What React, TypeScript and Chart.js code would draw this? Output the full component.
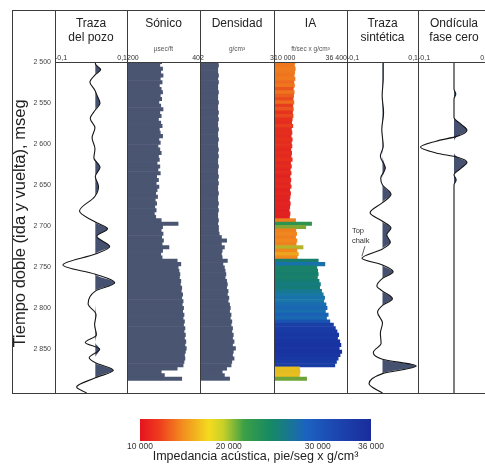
import React, { useEffect, useRef } from 'react';
import { Chart, registerables } from 'chart.js';

Chart.register(...registerables);

// ---------------- data ----------------
const TIME_MIN = 2500;
const TIME_MAX = 2893;
const TIME_TICKS = [2500, 2550, 2600, 2650, 2700, 2750, 2800, 2850];

// logs sampled every 4 ms from 2500 ms
const LOG_START = 2500;
const LOG_STEP = 4;

const SONIC = [
  124, 128, 122, 126, 121, 127, 123, 129, 125, 122,
  127, 124, 130, 126, 121, 128, 125, 131, 126, 123,
  129, 127, 122, 130, 127, 132, 128, 125, 131, 129,
  134, 128, 132, 127, 135, 131, 136, 130, 134, 137,
  133, 138, 135, 139, 136, 140, 137, 125, 88, 122,
  125, 121, 124, 120, 123, 108, 122, 126, 123, 90,
  82, 88, 86, 84, 85, 82, 83, 80, 81, 78,
  80, 77, 79, 76, 78, 75, 77, 74, 76, 73,
  75, 72, 74, 71, 73, 70, 72, 74, 73, 75,
  77, 90, 125, 118, 80,
];

const DENSITY = [
  2.24, 2.25, 2.24, 2.24, 2.25, 2.24, 2.25, 2.24, 2.24, 2.25,
  2.24, 2.24, 2.25, 2.24, 2.24, 2.25, 2.24, 2.25, 2.24, 2.24,
  2.25, 2.24, 2.24, 2.25, 2.24, 2.24, 2.25, 2.24, 2.25, 2.24,
  2.24, 2.25, 2.24, 2.24, 2.25, 2.24, 2.25, 2.24, 2.24, 2.25,
  2.24, 2.24, 2.25, 2.24, 2.25, 2.24, 2.24, 2.25, 2.24, 2.25,
  2.25, 2.26, 2.29, 2.36, 2.29, 2.33, 2.30, 2.29, 2.30, 2.37,
  2.31, 2.33, 2.34, 2.35, 2.34, 2.36, 2.37, 2.36, 2.38, 2.37,
  2.39, 2.38, 2.40, 2.41, 2.40, 2.42, 2.41, 2.43, 2.42, 2.44,
  2.43, 2.45, 2.44, 2.46, 2.44, 2.48, 2.45, 2.44, 2.46, 2.43,
  2.42, 2.36, 2.30, 2.33, 2.40,
];

const IA = [
  17600, 17400, 17700, 17500, 17300, 17600, 17200, 17400, 17000, 17300,
  17100, 16900, 17200, 16800, 17000, 16700, 16900, 16600, 16400, 16800,
  16300, 16500, 16200, 16600, 16300, 16500, 16100, 16400, 16200, 16600,
  16000, 16300, 15900, 16200, 15800, 16100, 15900, 16200, 15700, 16000,
  15800, 15600, 15900, 15700, 15500, 15800, 15600, 17800, 23600, 21500,
  17900, 18200, 17800, 18300, 18000, 20500, 18300, 18800, 18400, 26000,
  28400, 25500, 25800, 26000, 25700, 26300, 26800, 26500, 27200, 27800,
  28300, 28000, 28800, 29200, 28600, 29600, 29000, 30200, 31500, 32200,
  32800, 33400, 33000, 33800, 34200, 33600, 34500, 33900, 33200, 32600,
  32000, 19300, 19400, 19200, 21800,
];

// well trace (Traza del pozo): time (ms) and amplitude
const WELL_T = [2500, 2503, 2509, 2515, 2524, 2533, 2541, 2549, 2557, 2567, 2578, 2590, 2603, 2614, 2625, 2636, 2648, 2660, 2677, 2690, 2698, 2707, 2719, 2728, 2741, 2752, 2762, 2772, 2787, 2800, 2812, 2824, 2833, 2841, 2851, 2857, 2866, 2875, 2886, 2893];
const WELL_A = [0.012, 0.013, 0.027, 0.012, -0.003, 0.010, 0.018, 0.025, 0.012, -0.002, 0.011, 0.003, 0.011, 0.008, 0.025, 0.012, 0.021, 0.010, -0.032, 0.012, 0.046, 0.016, 0.052, 0.012, -0.078, 0.012, 0.066, 0.012, -0.008, 0.014, 0.010, 0.015, -0.016, 0.024, -0.005, 0.012, 0.062, 0.012, -0.040, -0.012];
const WELL_BASE = 0.012;

// synthetic trace
const SYN_T = [2500, 2520, 2540, 2560, 2580, 2600, 2612, 2626, 2638, 2646, 2657, 2667, 2679, 2689, 2697, 2705, 2714, 2722, 2733, 2741, 2749, 2757, 2766, 2772, 2781, 2789, 2797, 2810, 2822, 2834, 2845, 2853, 2861, 2870, 2882, 2893];
const SYN_A = [0.002, 0.002, -0.001, 0.003, -0.002, 0.002, -0.006, 0.008, -0.005, 0.000, 0.024, 0.000, -0.035, 0.000, 0.024, 0.012, 0.022, 0.000, -0.058, 0.000, 0.030, 0.000, -0.016, 0.000, 0.028, 0.000, -0.014, 0.000, -0.006, -0.004, -0.026, 0.000, 0.095, 0.000, -0.038, 0.000];
const SYN_BASE = 0;
const TOP_CHALK_T = 2733;
const TOP_CHALK_A = -0.058;

// zero-phase wavelet
const WAV_T = [2500, 2532, 2538, 2544, 2566, 2574, 2581, 2588, 2594, 2601, 2608, 2613, 2619, 2626, 2634, 2640, 2646, 2893];
const WAV_A = [0, 0, 0.005, 0, 0, 0.02, 0.036, 0.01, -0.05, -0.093, -0.05, 0.01, 0.036, 0.02, 0, 0.006, 0, 0];
const WAV_BASE = 0;

// colour bar
const CB_MIN = 10000;
const CB_MAX = 36000;
const CB_TICKS = [10000, 20000, 30000, 36000];

// ---------------- styles ----------------
const REG = '"Liberation Sans", Arial, Helvetica, sans-serif';
const LOG_COLOR = '#4a5572';
const SHADE = '#465170';
const LINE_COLOR = '#151515';
const FRAME = '#3c3c3c';

const IA_STOPS: [number, string][] = [
  [15400, '#df1d21'], [16700, '#e6321e'], [17300, '#ee751e'], [18400, '#f08a1e'],
  [19200, '#e9bf1f'], [20800, '#a8b02c'], [22600, '#3d9a45'], [24600, '#1e8a5c'],
  [26400, '#157b72'], [28000, '#1877a8'], [29600, '#1a60b6'], [31200, '#1a41a8'],
  [34500, '#1832a0'],
];
const CB_STOPS: [number, string][] = [
  [0, '#e5141e'], [0.08, '#ee3a1e'], [0.18, '#f28a1e'], [0.3, '#f3dc1e'], [0.36, '#c8d028'],
  [0.45, '#3ca046'], [0.56, '#178a62'], [0.64, '#18788e'], [0.72, '#1c62c0'], [0.85, '#1c46b0'], [1, '#1a2c9c'],
];

function hexRgb(h: string) {
  return [parseInt(h.slice(1, 3), 16), parseInt(h.slice(3, 5), 16), parseInt(h.slice(5, 7), 16)];
}
function iaColor(v: number) {
  if (v <= IA_STOPS[0][0]) return IA_STOPS[0][1];
  for (let i = 1; i < IA_STOPS.length; i++) {
    const [v1, c1] = IA_STOPS[i];
    if (v <= v1) {
      const [v0, c0] = IA_STOPS[i - 1];
      const f = (v - v0) / (v1 - v0);
      const a = hexRgb(c0), b = hexRgb(c1);
      const m = a.map((x, k) => Math.round(x + (b[k] - x) * f));
      return `rgb(${m[0]},${m[1]},${m[2]})`;
    }
  }
  return IA_STOPS[IA_STOPS.length - 1][1];
}

const thousands = (v: number) => String(v).replace(/\B(?=(\d{3})+(?!\d))/g, ' ');
const comma = (v: number) => String(v).replace('.', ',');

// ---------------- layout ----------------
const TOP = 10;
const BOTTOM = 393;
const TRACKS = [
  { left: 55, width: 72 },
  { left: 127, width: 73 },
  { left: 200, width: 74 },
  { left: 274, width: 73 },
  { left: 347, width: 71 },
  { left: 418, width: 72 },
];

function hiddenTime() {
  return { type: 'linear', min: TIME_MIN, max: TIME_MAX, reverse: true, display: false, offset: false };
}

function headerScale(min: number, max: number, fmt: (v: number) => string, reverse = false) {
  return {
    type: 'linear',
    position: 'top',
    min,
    max,
    reverse,
    beginAtZero: false,
    grid: { display: false, drawTicks: false },
    border: { display: false },
    ticks: {
      align: 'inner',
      padding: 0,
      autoSkip: false,
      maxRotation: 0,
      color: '#333',
      font: { family: REG, size: 7, lineHeight: 1.2 },
      callback: (v: number) => fmt(v),
    },
    afterBuildTicks: (s: any) => { s.ticks = [{ value: min }, { value: max }]; },
    afterFit: (s: any) => { s.height = 9; },
  };
}

function headerPlugins(title: string[], unit: string) {
  return {
    legend: { display: false },
    tooltip: { enabled: false },
    title: {
      display: true,
      text: title,
      color: '#222',
      font: { family: REG, size: 12, lineHeight: 14 / 12, weight: 'normal' },
      padding: { top: 7, bottom: 0 },
    },
    subtitle: {
      display: true,
      text: unit,
      color: '#555',
      font: { family: REG, size: 6.5, lineHeight: 1.2, weight: 'normal' },
      padding: { top: 0, bottom: 0.2 },
    },
  };
}

function logChart(canvas: HTMLCanvasElement, values: number[], min: number, max: number, base: number,
  reverse: boolean, fmt: (v: number) => string, title: string[], unit: string, colors: any) {
  return new Chart(canvas, {
    type: 'bar',
    data: {
      datasets: [{
        data: values.map((v, i) => ({ x: v, y: LOG_START + i * LOG_STEP })),
        backgroundColor: colors,
        borderWidth: 0,
        base,
        barPercentage: 1,
        categoryPercentage: 1,
      }],
    },
    options: {
      indexAxis: 'y',
      responsive: false,
      animation: false,
      events: [],
      layout: { padding: 0 },
      scales: { x: headerScale(min, max, fmt, reverse), y: hiddenTime() },
      plugins: headerPlugins(title, unit),
    } as any,
  });
}

function wiggleChart(canvas: HTMLCanvasElement, ts: number[], as: number[], base: number,
  title: string[], unit: string, extra: any[] = []) {
  const line = ts.map((t, i) => ({ x: as[i], y: t }));
  const pos = ts.map((t, i) => ({ x: Math.max(as[i], base), y: t }));
  return new Chart(canvas, {
    type: 'line',
    data: {
      datasets: [
        {
          data: pos,
          fill: { value: base },
          backgroundColor: SHADE,
          borderColor: 'rgba(0,0,0,0)',
          borderWidth: 0,
          pointRadius: 0,
          cubicInterpolationMode: 'monotone',
          order: 2,
        },
        {
          data: line,
          fill: false,
          borderColor: LINE_COLOR,
          borderWidth: 1.1,
          pointRadius: 0,
          cubicInterpolationMode: 'monotone',
          order: 1,
        },
      ],
    },
    options: {
      indexAxis: 'y',
      responsive: false,
      animation: false,
      events: [],
      layout: { padding: 0 },
      scales: { x: headerScale(-0.1, 0.1, comma), y: hiddenTime() },
      plugins: headerPlugins(title, unit),
    } as any,
    plugins: extra,
  });
}

const topChalkPlugin = {
  id: 'topChalk',
  afterDatasetsDraw(chart: any) {
    const { ctx, scales } = chart;
    const px = scales.x.getPixelForValue(TOP_CHALK_A);
    const py = scales.y.getPixelForValue(TOP_CHALK_T);
    ctx.save();
    ctx.fillStyle = '#333';
    ctx.font = `7.5px ${REG}`;
    ctx.textAlign = 'left';
    ctx.textBaseline = 'alphabetic';
    ctx.fillText('Top', px - 10, py - 25);
    ctx.fillText('chalk', px - 10, py - 15);
    ctx.strokeStyle = '#333';
    ctx.lineWidth = 0.8;
    ctx.beginPath();
    ctx.moveTo(px + 3, py - 12);
    ctx.lineTo(px, py - 2);
    ctx.stroke();
    ctx.restore();
  },
};

export default function App() {
  const axisRef = useRef<HTMLCanvasElement>(null);
  const t0 = useRef<HTMLCanvasElement>(null);
  const t1 = useRef<HTMLCanvasElement>(null);
  const t2 = useRef<HTMLCanvasElement>(null);
  const t3 = useRef<HTMLCanvasElement>(null);
  const t4 = useRef<HTMLCanvasElement>(null);
  const t5 = useRef<HTMLCanvasElement>(null);
  const cbRef = useRef<HTMLCanvasElement>(null);
  const trackRefs = [t0, t1, t2, t3, t4, t5];

  useEffect(() => {
    const charts: Chart[] = [];

    // time axis
    charts.push(new Chart(axisRef.current!, {
      type: 'scatter',
      data: { datasets: [{ data: [] }] },
      options: {
        responsive: false,
        animation: false,
        events: [],
        layout: { padding: { top: 52, bottom: 0, left: 0, right: 0 } },
        scales: {
          x: { type: 'linear', display: false, min: 0, max: 1 },
          y: {
            type: 'linear',
            position: 'left',
            min: TIME_MIN,
            max: TIME_MAX,
            reverse: true,
            grid: { display: false, drawTicks: false },
            border: { display: false },
            ticks: {
              padding: 4,
              color: '#444',
              font: { family: REG, size: 7 },
              callback: (v: number) => thousands(v),
            },
            afterBuildTicks: (s: any) => { s.ticks = TIME_TICKS.map((v) => ({ value: v })); },
            afterFit: (s: any) => { s.width = 43; },
            title: {
              display: true,
              text: 'Tiempo doble (ida y vuelta), mseg',
              color: '#222',
              font: { family: REG, size: 16.5, lineHeight: 1 },
              padding: 0,
            },
          },
        },
        plugins: { legend: { display: false }, tooltip: { enabled: false } },
      } as any,
    }));

    charts.push(wiggleChart(t0.current!, WELL_T, WELL_A, WELL_BASE, ['Traza', 'del pozo'], ' '));
    charts.push(logChart(t1.current!, SONIC, 40, 200, 200, true, (v) => String(v), ['Sónico', ''], 'µsec/ft', LOG_COLOR));
    charts.push(logChart(t2.current!, DENSITY, 2, 3, 2, false, (v) => String(v), ['Densidad', ''], 'g/cm³', LOG_COLOR));
    charts.push(logChart(t3.current!, IA, 10000, 36400, 10000, false, thousands, ['IA', ''], 'ft/sec x g/cm³', IA.map(iaColor)));
    charts.push(wiggleChart(t4.current!, SYN_T, SYN_A, SYN_BASE, ['Traza', 'sintética'], ' ', [topChalkPlugin]));
    charts.push(wiggleChart(t5.current!, WAV_T, WAV_A, WAV_BASE, ['Ondícula', 'fase cero'], ' '));

    // colour bar
    charts.push(new Chart(cbRef.current!, {
      type: 'bar',
      data: {
        labels: [''],
        datasets: [{
          data: [[CB_MIN, CB_MAX]],
          borderWidth: 0,
          inflateAmount: 0,
          barPercentage: 1,
          categoryPercentage: 1,
          backgroundColor: (c: any) => {
            const chart = c.chart;
            const xs = chart.scales.x;
            if (!chart.chartArea || !xs) return '#888';
            const g = chart.ctx.createLinearGradient(xs.getPixelForValue(CB_MIN), 0, xs.getPixelForValue(CB_MAX), 0);
            CB_STOPS.forEach(([f, col]) => g.addColorStop(f, col));
            return g;
          },
        }],
      },
      options: {
        indexAxis: 'y',
        responsive: false,
        animation: false,
        events: [],
        layout: { padding: { left: 40, right: 49, top: 0, bottom: 0 } },
        scales: {
          x: {
            type: 'linear',
            position: 'bottom',
            min: CB_MIN,
            max: CB_MAX,
            grid: { display: false, drawTicks: false },
            border: { display: false },
            ticks: {
              padding: 1,
              autoSkip: false,
              maxRotation: 0,
              color: '#333',
              font: { family: REG, size: 8.5 },
              callback: (v: number) => thousands(v),
            },
            afterBuildTicks: (s: any) => { s.ticks = CB_TICKS.map((v) => ({ value: v })); },
            afterFit: (s: any) => { s.height = 28; },
            title: {
              display: true,
              text: 'Impedancia acústica, pie/seg x g/cm³',
              color: '#222',
              font: { family: REG, size: 12.5, lineHeight: 1.2 },
              padding: { top: 0, bottom: 5 },
            },
          },
          y: { display: false },
        },
        plugins: { legend: { display: false }, tooltip: { enabled: false } },
      } as any,
    }));

    return () => charts.forEach((c) => c.destroy());
  }, []);

  const H = BOTTOM - TOP;
  const vLines = [12, 55, 127, 200, 274, 347, 418];

  return (
    <div style={{ position: 'absolute', left: 0, top: 0, width: 485, height: 469, overflow: 'hidden', background: '#fff' }}>
      <canvas ref={axisRef} width={44} height={H} style={{ position: 'absolute', left: 12, top: TOP, width: 44, height: H }} />
      {TRACKS.map((t, i) => (
        <canvas key={i} ref={trackRefs[i]} width={t.width} height={H}
          style={{ position: 'absolute', left: t.left, top: TOP, width: t.width, height: H }} />
      ))}
      <canvas ref={cbRef} width={320} height={50} style={{ position: 'absolute', left: 100, top: 419, width: 320, height: 50 }} />
      {vLines.map((x) => (
        <div key={x} style={{ position: 'absolute', left: x, top: TOP, width: 1, height: H + 1, background: FRAME }} />
      ))}
      <div style={{ position: 'absolute', left: 12, top: TOP, width: 480, height: 1, background: FRAME }} />
      <div style={{ position: 'absolute', left: 55, top: 62, width: 437, height: 1, background: FRAME }} />
      <div style={{ position: 'absolute', left: 12, top: BOTTOM, width: 480, height: 1, background: FRAME }} />
    </div>
  );
}
